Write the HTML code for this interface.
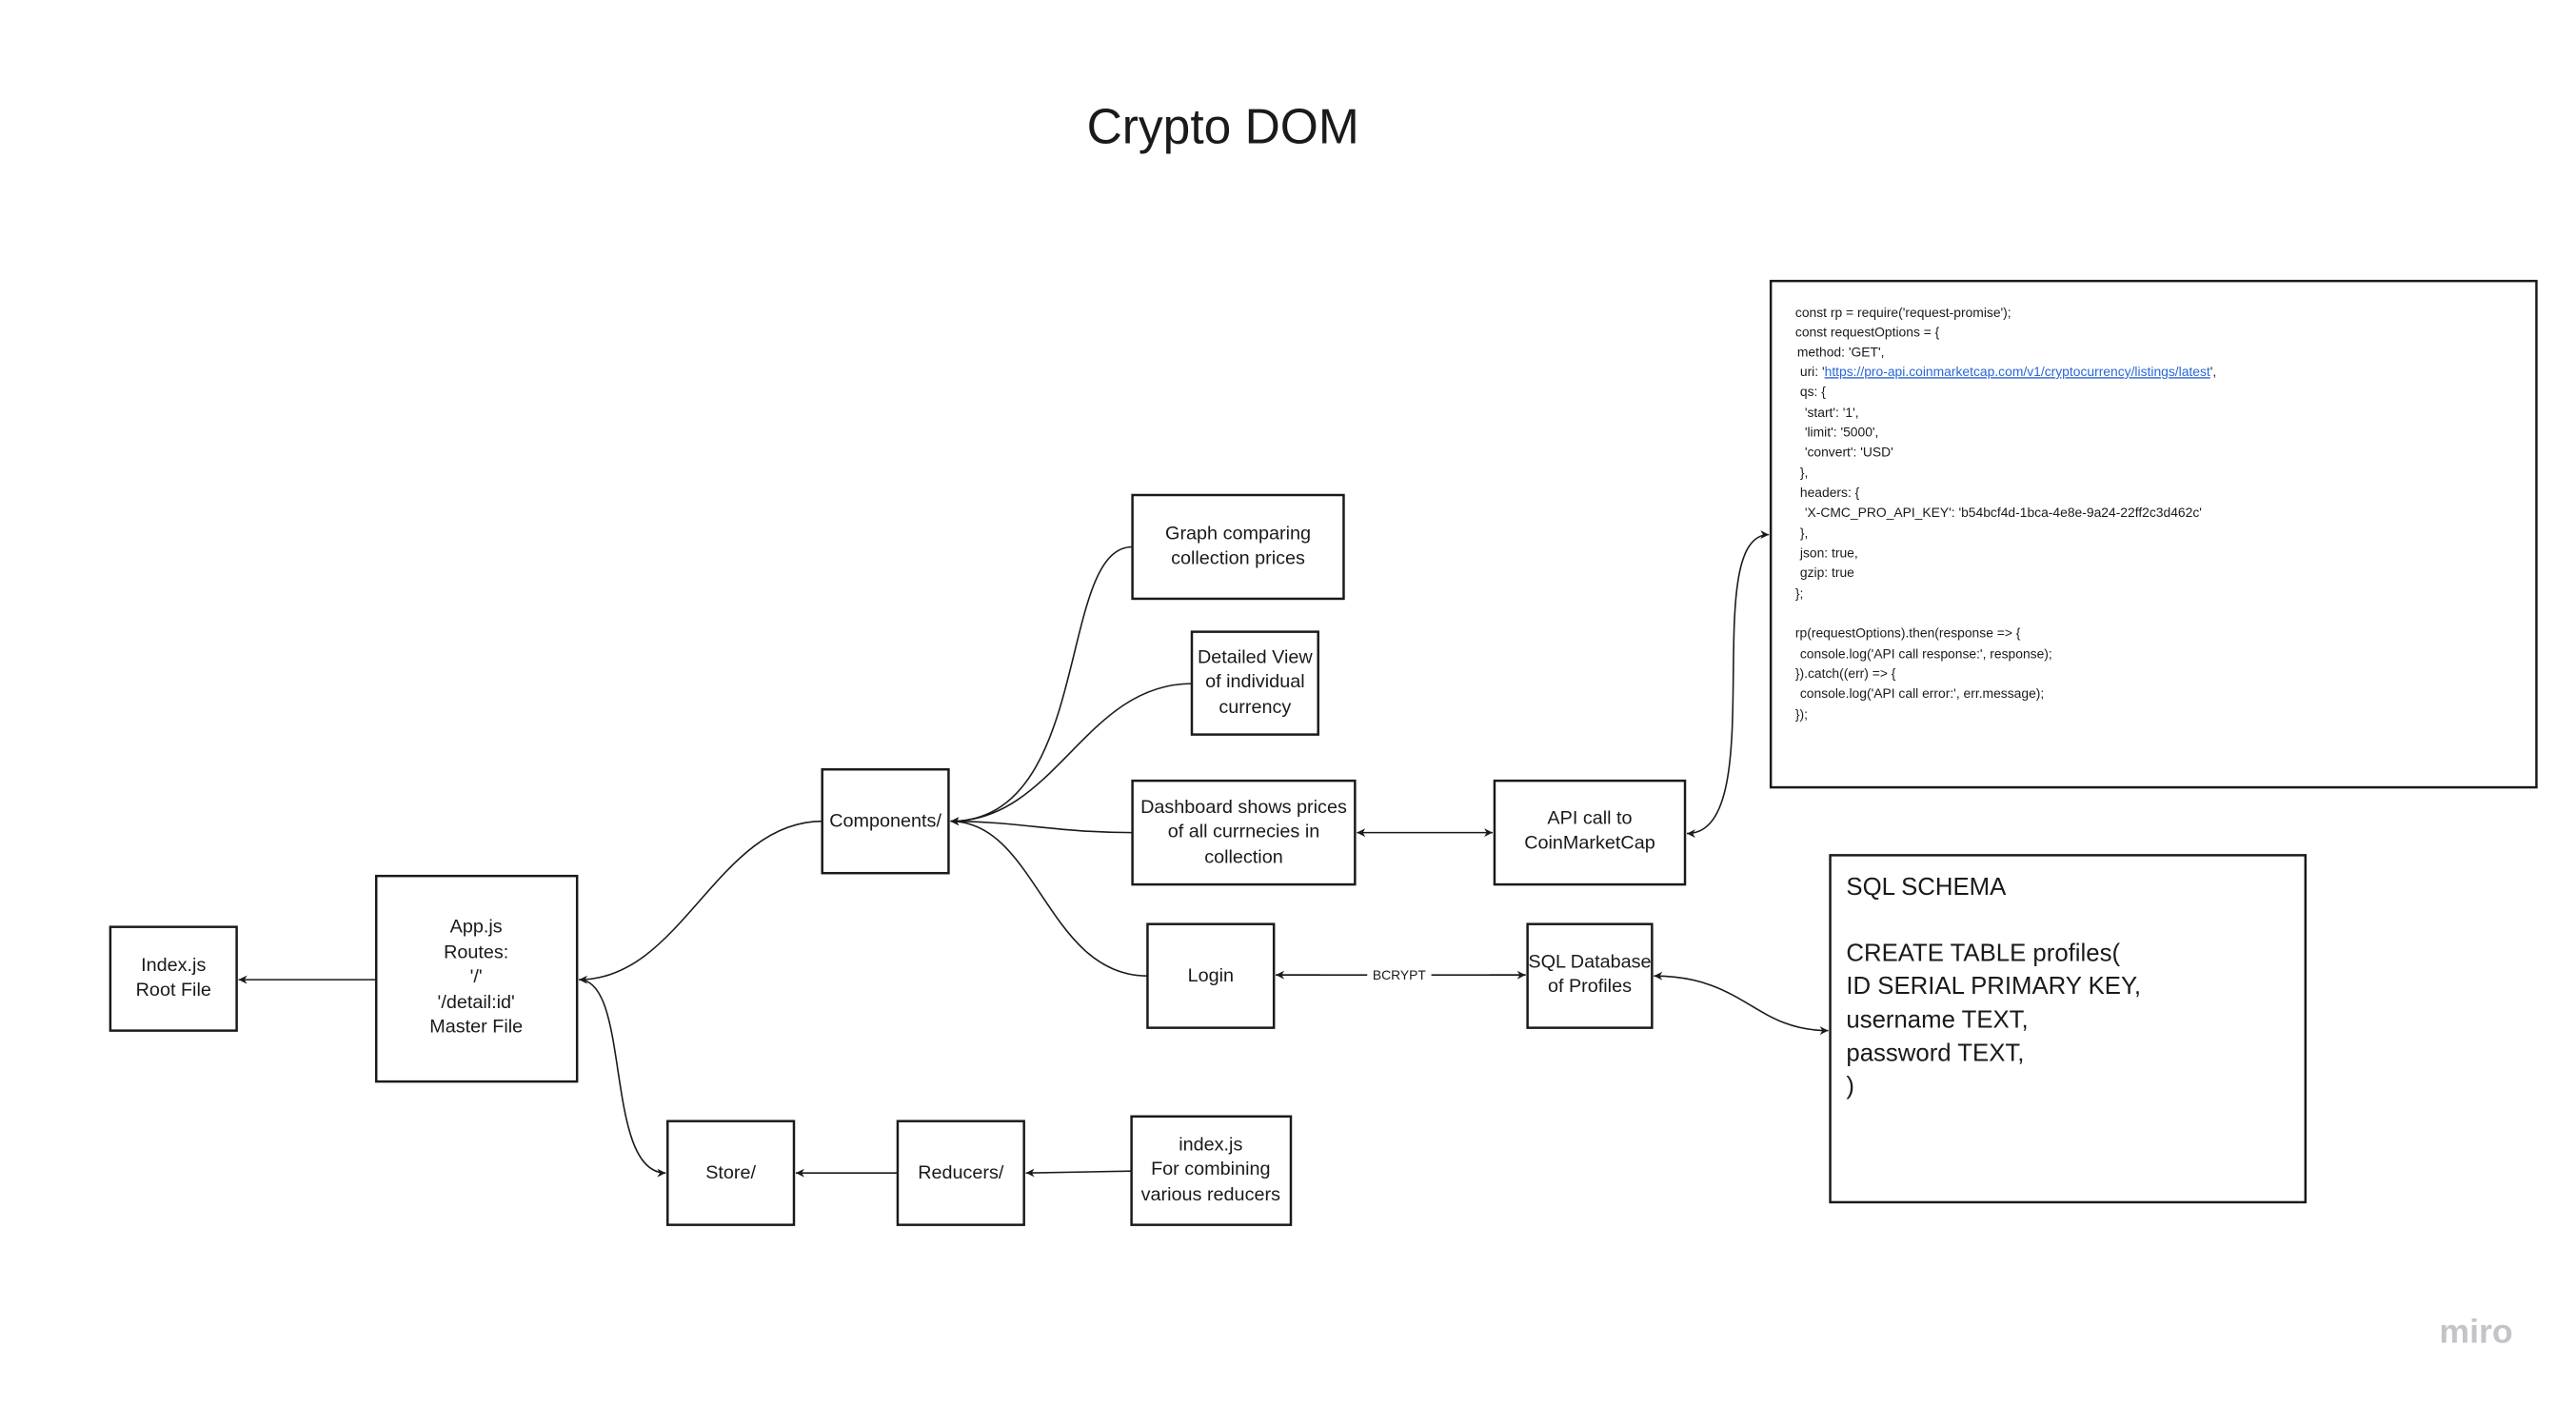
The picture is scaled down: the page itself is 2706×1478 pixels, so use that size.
<!DOCTYPE html>
<html><head><meta charset="utf-8"><style>
html,body{margin:0;padding:0;background:#fff}
svg{display:block}
text{font-family:"Liberation Sans",sans-serif;fill:#1a1a1a}
.b{fill:#fff;stroke:#1a1a1a;stroke-width:2.5}
.l{fill:none;stroke:#1a1a1a;stroke-width:1.6}
.t{font-size:20px;text-anchor:middle}
.c{font-size:14px}
.s{font-size:26px}
</style></head><body>
<svg width="2706" height="1478" viewBox="0 0 2706 1478" xmlns="http://www.w3.org/2000/svg">
<defs>
<marker id="a" viewBox="0 0 10 10" refX="10" refY="5" markerWidth="9" markerHeight="9" orient="auto-start-reverse" markerUnits="userSpaceOnUse"><path d="M0,0 L10,5 L0,10 L3,5 z" fill="#1a1a1a"/></marker>
</defs>
<g transform="scale(0.9905)">
<text x="1297" y="152" style="font-size:52px;text-anchor:middle">Crypto DOM</text>

<path class="l" d="M399,1039 L253,1039" marker-end="url(#a)"/>
<path class="l" d="M872,871 C760,871 724,1039 614,1039" marker-end="url(#a)"/>
<path class="l" d="M1201,580 C1120,580 1160,871 1008,871" marker-end="url(#a)"/>
<path class="l" d="M1264,725 C1150,725 1120,871 1008,871" marker-end="url(#a)"/>
<path class="l" d="M1201,883 C1120,883 1080,871 1008,871" marker-end="url(#a)"/>
<path class="l" d="M1217,1035 C1110,1035 1100,871 1008,871" marker-end="url(#a)"/>
<path class="l" d="M614,1039 C670,1039 640,1244 706,1244" marker-end="url(#a)"/>
<path class="l" d="M952,1244 L844,1244" marker-end="url(#a)"/>
<path class="l" d="M1200,1242 L1088,1244" marker-end="url(#a)"/>
<path class="l" d="M1439,883 L1583,883" marker-start="url(#a)" marker-end="url(#a)"/>
<path class="l" d="M1789,884 C1880,884 1800,567 1876,567" marker-start="url(#a)" marker-end="url(#a)"/>
<path class="l" d="M1353,1034 L1450,1034 M1518,1034 L1618,1034"/>
<path class="l" d="M1400,1034 L1353,1034" marker-end="url(#a)"/>
<path class="l" d="M1580,1034 L1618,1034" marker-end="url(#a)"/>
<text x="1484" y="1039" style="font-size:14px;text-anchor:middle">BCRYPT</text>
<path class="l" d="M1754,1035 C1850,1035 1860,1093 1939,1093" marker-start="url(#a)" marker-end="url(#a)"/>

<rect class="b" x="117" y="983" width="134" height="110"/>
<text class="t" x="184" y="1030">Index.js</text><text class="t" x="184" y="1056">Root File</text>

<rect class="b" x="399" y="929" width="213" height="218"/>
<text class="t" x="505" y="989">App.js</text>
<text class="t" x="505" y="1016">Routes:</text>
<text class="t" x="505" y="1042">'/'</text>
<text class="t" x="505" y="1069">'/detail:id'</text>
<text class="t" x="505" y="1095">Master File</text>

<rect class="b" x="872" y="816" width="134" height="110"/>
<text class="t" x="939" y="877">Components/</text>

<rect class="b" x="1201" y="525" width="224" height="110"/>
<text class="t" x="1313" y="572">Graph comparing</text><text class="t" x="1313" y="598">collection prices</text>

<rect class="b" x="1264" y="670" width="134" height="109"/>
<text class="t" x="1331" y="703">Detailed View</text><text class="t" x="1331" y="729">of individual</text><text class="t" x="1331" y="756">currency</text>

<rect class="b" x="1201" y="828" width="236" height="110"/>
<text class="t" x="1319" y="862">Dashboard shows prices</text><text class="t" x="1319" y="888">of all currnecies in</text><text class="t" x="1319" y="915">collection</text>

<rect class="b" x="1217" y="980" width="134" height="110"/>
<text class="t" x="1284" y="1041">Login</text>

<rect class="b" x="1585" y="828" width="202" height="110"/>
<text class="t" x="1686" y="874">API call to</text><text class="t" x="1686" y="900">CoinMarketCap</text>

<rect class="b" x="1620" y="980" width="132" height="110"/>
<text class="t" x="1686" y="1026">SQL Database</text><text class="t" x="1686" y="1052">of Profiles</text>

<rect class="b" x="708" y="1189" width="134" height="110"/>
<text class="t" x="775" y="1250">Store/</text>
<rect class="b" x="952" y="1189" width="134" height="110"/>
<text class="t" x="1019" y="1250">Reducers/</text>
<rect class="b" x="1200" y="1184" width="169" height="115"/>
<text class="t" x="1284" y="1220">index.js</text><text class="t" x="1284" y="1246">For combining</text><text class="t" x="1284" y="1273">various reducers</text>

<rect class="b" x="1878" y="298" width="812" height="537"/>
<text class="c" x="1904" y="336">const rp = require('request-promise');</text>
<text class="c" x="1904" y="357">const requestOptions = {</text>
<text class="c" x="1906" y="378"> method: 'GET',</text>
<text class="c" x="1909" y="399">uri: '<tspan style="fill:#2a66d8;text-decoration:underline">https://pro-api.coinmarketcap.com/v1/cryptocurrency/listings/latest</tspan>',</text>
<text class="c" x="1909" y="420">qs: {</text>
<text class="c" x="1914" y="442">'start': '1',</text>
<text class="c" x="1914" y="463">'limit': '5000',</text>
<text class="c" x="1914" y="484">'convert': 'USD'</text>
<text class="c" x="1909" y="506">},</text>
<text class="c" x="1909" y="527">headers: {</text>
<text class="c" x="1914" y="548">'X-CMC_PRO_API_KEY': 'b54bcf4d-1bca-4e8e-9a24-22ff2c3d462c'</text>
<text class="c" x="1909" y="570">},</text>
<text class="c" x="1909" y="591">json: true,</text>
<text class="c" x="1909" y="612">gzip: true</text>
<text class="c" x="1904" y="634">};</text>
<text class="c" x="1904" y="676">rp(requestOptions).then(response =&gt; {</text>
<text class="c" x="1909" y="698">console.log('API call response:', response);</text>
<text class="c" x="1904" y="719">}).catch((err) =&gt; {</text>
<text class="c" x="1909" y="740">console.log('API call error:', err.message);</text>
<text class="c" x="1904" y="762">});</text>

<rect class="b" x="1941" y="907" width="504" height="368"/>
<text class="s" x="1958" y="949">SQL SCHEMA</text>
<text class="s" x="1958" y="1019">CREATE TABLE profiles(</text>
<text class="s" x="1958" y="1054">ID SERIAL PRIMARY KEY,</text>
<text class="s" x="1958" y="1090">username TEXT,</text>
<text class="s" x="1958" y="1125">password TEXT,</text>
<text class="s" x="1958" y="1160">)</text>

<text x="2626" y="1424" style="font-size:36px;text-anchor:middle;fill:#c4c4c8;font-weight:bold">miro</text>
</g>
</svg>
</body></html>
